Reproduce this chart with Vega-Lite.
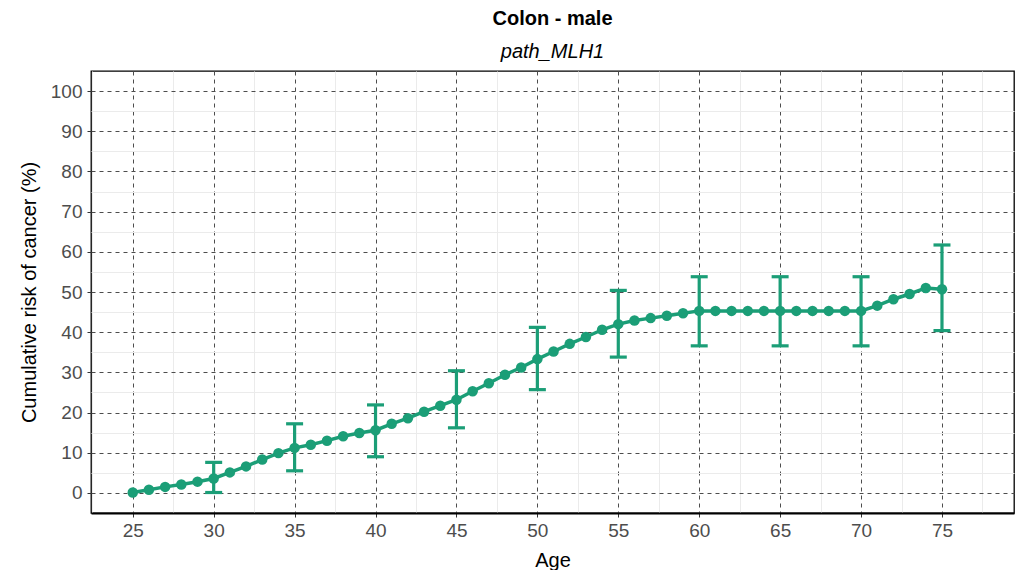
{
  "$schema": "https://vega.github.io/schema/vega-lite/v6.json",
  "autosize": {"type": "none"},
  "width": 923,
  "height": 442,
  "padding": {"left": 91, "top": 71, "right": 4, "bottom": 57},
  "background": "white",
  "title": {
    "text": "Colon - male",
    "subtitle": "path_MLH1",
    "anchor": "middle",
    "font": "Liberation Sans",
    "fontSize": 20,
    "fontWeight": "bold",
    "color": "#000000",
    "subtitleFont": "Liberation Sans",
    "subtitleFontSize": 20,
    "subtitleFontStyle": "italic",
    "subtitleColor": "#000000",
    "subtitlePadding": 13,
    "offset": 9
  },
  "config": {
    "view": {"stroke": "#000000", "strokeWidth": 1.3},
    "axis": {
      "labelFont": "Liberation Sans",
      "titleFont": "Liberation Sans",
      "labelFontSize": 19,
      "titleFontSize": 20,
      "titleFontWeight": "normal",
      "labelColor": "#4d4d4d",
      "titleColor": "#000000"
    }
  },
  "data": {
    "values": [
      {"age": 25, "risk": 0.1},
      {"age": 26, "risk": 0.8},
      {"age": 27, "risk": 1.5},
      {"age": 28, "risk": 2.1},
      {"age": 29, "risk": 2.8},
      {"age": 30, "risk": 3.6, "lower": 0.1, "upper": 7.6},
      {"age": 31, "risk": 5.1},
      {"age": 32, "risk": 6.6},
      {"age": 33, "risk": 8.3},
      {"age": 34, "risk": 9.9},
      {"age": 35, "risk": 11.2, "lower": 5.5, "upper": 17.2},
      {"age": 36, "risk": 12.0},
      {"age": 37, "risk": 13.0},
      {"age": 38, "risk": 14.1},
      {"age": 39, "risk": 14.9},
      {"age": 40, "risk": 15.6, "lower": 9.0, "upper": 21.9},
      {"age": 41, "risk": 17.2},
      {"age": 42, "risk": 18.6},
      {"age": 43, "risk": 20.2},
      {"age": 44, "risk": 21.7},
      {"age": 45, "risk": 23.2, "lower": 16.2, "upper": 30.4},
      {"age": 46, "risk": 25.3},
      {"age": 47, "risk": 27.3},
      {"age": 48, "risk": 29.4},
      {"age": 49, "risk": 31.2},
      {"age": 50, "risk": 33.3, "lower": 25.7, "upper": 41.2},
      {"age": 51, "risk": 35.2},
      {"age": 52, "risk": 37.1},
      {"age": 53, "risk": 38.8},
      {"age": 54, "risk": 40.6},
      {"age": 55, "risk": 42.0, "lower": 33.8, "upper": 50.4},
      {"age": 56, "risk": 42.9},
      {"age": 57, "risk": 43.5},
      {"age": 58, "risk": 44.1},
      {"age": 59, "risk": 44.7},
      {"age": 60, "risk": 45.3, "lower": 36.6, "upper": 53.8},
      {"age": 61, "risk": 45.3},
      {"age": 62, "risk": 45.3},
      {"age": 63, "risk": 45.3},
      {"age": 64, "risk": 45.3},
      {"age": 65, "risk": 45.3, "lower": 36.6, "upper": 53.8},
      {"age": 66, "risk": 45.3},
      {"age": 67, "risk": 45.3},
      {"age": 68, "risk": 45.3},
      {"age": 69, "risk": 45.3},
      {"age": 70, "risk": 45.3, "lower": 36.6, "upper": 53.8},
      {"age": 71, "risk": 46.6},
      {"age": 72, "risk": 48.2},
      {"age": 73, "risk": 49.5},
      {"age": 74, "risk": 51.0},
      {"age": 75, "risk": 50.7, "lower": 40.4, "upper": 61.7}
    ]
  },
  "resolve": {"axis": {"x": "independent", "y": "independent"}},
  "layer": [
    {
      "mark": {"type": "line", "color": "#1b9e77", "strokeWidth": 3.5},
      "encoding": {
        "x": {
          "field": "age", "type": "quantitative",
          "scale": {"domain": [22.42, 79.45], "nice": false, "zero": false},
          "axis": {
            "orient": "bottom",
            "values": [22.5, 27.5, 32.5, 37.5, 42.5, 47.5, 52.5, 57.5, 62.5, 67.5, 72.5, 77.5],
            "grid": true, "gridColor": "#ebebeb", "gridWidth": 1,
            "labels": false, "ticks": false, "domain": false, "title": null
          }
        },
        "y": {
          "field": "risk", "type": "quantitative",
          "scale": {"domain": [-5, 105], "nice": false, "zero": false},
          "axis": {
            "orient": "left",
            "values": [5, 15, 25, 35, 45, 55, 65, 75, 85, 95],
            "grid": true, "gridColor": "#ebebeb", "gridWidth": 1,
            "labels": false, "ticks": false, "domain": false, "title": null
          }
        }
      }
    },
    {
      "transform": [{"filter": "isValid(datum.lower)"}],
      "mark": {"type": "rule", "color": "#1b9e77", "strokeWidth": 3.2, "opacity": 1},
      "encoding": {
        "x": {
          "field": "age", "type": "quantitative",
          "axis": {
            "orient": "bottom",
            "values": [25, 30, 35, 40, 45, 50, 55, 60, 65, 70, 75],
            "grid": true, "gridColor": "#4d4d4d", "gridDash": [4, 4], "gridWidth": 1,
            "ticks": true, "tickColor": "#333333", "tickSize": 4, "tickWidth": 1,
            "domain": true, "domainColor": "#000000", "domainWidth": 2.2,
            "labelPadding": 4, "title": "Age", "titlePadding": 10
          }
        },
        "y": {
          "field": "lower", "type": "quantitative",
          "axis": {
            "orient": "left",
            "values": [0, 10, 20, 30, 40, 50, 60, 70, 80, 90, 100],
            "grid": true, "gridColor": "#4d4d4d", "gridDash": [4, 4], "gridWidth": 1,
            "ticks": true, "tickColor": "#333333", "tickSize": 4, "tickWidth": 1,
            "domain": false,
            "labelPadding": 5, "title": "Cumulative risk of cancer (%)", "titlePadding": 11
          }
        },
        "y2": {"field": "upper"}
      }
    },
    {
      "transform": [{"filter": "isValid(datum.lower)"}],
      "mark": {"type": "tick", "color": "#1b9e77", "orient": "horizontal", "size": 17, "thickness": 3.2, "opacity": 1},
      "encoding": {
        "x": {"field": "age", "type": "quantitative", "axis": null},
        "y": {"field": "lower", "type": "quantitative", "axis": null}
      }
    },
    {
      "transform": [{"filter": "isValid(datum.lower)"}],
      "mark": {"type": "tick", "color": "#1b9e77", "orient": "horizontal", "size": 17, "thickness": 3.2, "opacity": 1},
      "encoding": {
        "x": {"field": "age", "type": "quantitative", "axis": null},
        "y": {"field": "upper", "type": "quantitative", "axis": null}
      }
    },
    {
      "mark": {"type": "point", "filled": true, "color": "#1b9e77", "size": 110, "opacity": 1},
      "encoding": {
        "x": {"field": "age", "type": "quantitative", "axis": null},
        "y": {"field": "risk", "type": "quantitative", "axis": null}
      }
    }
  ]
}
